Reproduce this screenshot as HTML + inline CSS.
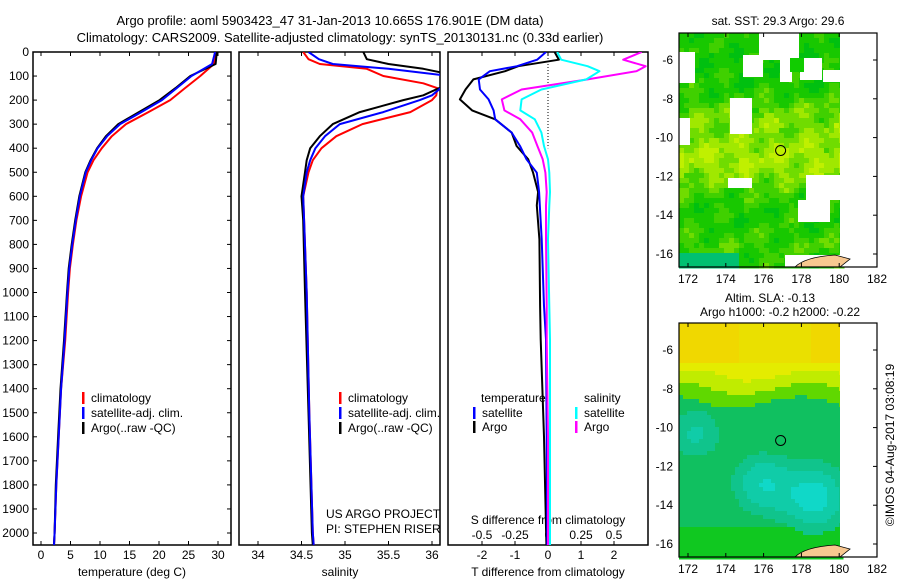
<!DOCTYPE html>
<html><head><meta charset="utf-8"><style>
body{margin:0;background:#fff;}
svg{display:block;font-family:"Liberation Sans",sans-serif;}
text{font-size:12px;fill:#000;}
</style></head><body>
<svg id="s" width="900" height="580" viewBox="0 0 900 580">
<defs>
<clipPath id="c1"><rect x="33" y="52" width="198" height="493"/></clipPath>
<clipPath id="c2"><rect x="239" y="52" width="201" height="493"/></clipPath>
<clipPath id="c3"><rect x="448" y="52" width="200" height="493"/></clipPath>
</defs>
<text x="330" y="25" text-anchor="middle" style="font-size:13px">Argo profile: aoml 5903423_47 31-Jan-2013 10.665S 176.901E (DM data)</text>
<text x="340" y="42" text-anchor="middle" style="font-size:13px">Climatology: CARS2009. Satellite-adjusted climatology: synTS_20130131.nc (0.33d earlier)</text>
<g id="maps"></g>
<g id="g"></g>
</svg>
<script>
// ---- data ----
const depthT = [0,50,100,150,200,250,300,350,400,450,500,600,700,800,900,1000,1200,1400,1600,1800,2000,2050];
const tempClim = [29.5,29.3,27,24.4,21.9,18.2,14.4,12.0,10.3,8.9,7.9,6.8,6.0,5.4,4.9,4.6,4.1,3.4,3.0,2.6,2.3,2.2];
const tempSat  = [29.5,29.0,25.5,23.0,20.5,17.0,13.4,11.2,9.6,8.5,7.6,6.6,5.9,5.3,4.8,4.5,4.0,3.4,3.0,2.6,2.3,2.2];
const tempArgo = [29.8,29.6,25.3,22.8,20.1,16.6,13.1,11.0,9.5,8.4,7.5,6.5,5.8,5.2,4.7,4.4,3.9,3.3,2.9,2.5,2.3,2.2];
const depthS = [0,30,50,70,100,130,150,180,200,250,300,350,400,450,500,600,700,1000,1500,2000,2050];
const salClim = [34.52,34.58,34.71,35.25,35.44,35.9,36.06,36.05,36.0,35.75,35.2,34.9,34.73,34.63,34.58,34.52,34.53,34.56,34.59,34.63,34.64];
const salSat  = [34.58,34.7,34.86,35.5,36.2,36.3,36.1,36.0,35.86,35.44,34.94,34.77,34.66,34.6,34.56,34.52,34.53,34.56,34.59,34.63,34.64];
const salArgo = [35.21,35.25,35.5,35.9,36.3,36.3,36.08,35.9,35.67,35.17,34.86,34.71,34.6,34.56,34.54,34.5,34.52,34.54,34.58,34.62,34.63];
const depthD = [0,32,59,80,114,156,197,243,280,335,391,446,502,582,638,779,1056,1195,1600,2050];
const dTsat  = [-0.06,-0.33,-0.94,-1.76,-2.1,-2.06,-1.8,-1.65,-1.6,-1.1,-0.85,-0.65,-0.34,-0.27,-0.25,-0.19,-0.12,-0.06,-0.04,-0.02];
const dTargo = [0.2,0.33,-0.9,-1.3,-2.26,-2.5,-2.67,-2.3,-1.6,-1.1,-0.95,-0.6,-0.45,-0.3,-0.34,-0.26,-0.24,-0.22,-0.12,-0.05];
const dSsat  = [0.07,0.1,0.3,0.39,0.29,-0.05,-0.2,-0.21,-0.1,-0.05,-0.03,0,0.01,0.015,0.01,0.0,0.01,0.015,0.015,0.015];
const dSargo = [0.71,0.57,0.74,0.67,0.3,-0.2,-0.35,-0.33,-0.21,-0.12,-0.08,-0.04,-0.02,-0.01,-0.015,-0.015,-0.01,-0.01,0.0,0.0];
const depthTicks = [0,100,200,300,400,500,600,700,800,900,1000,1100,1200,1300,1400,1500,1600,1700,1800,1900,2000];
const tempTicks = [0,5,10,15,20,25,30];
const salTicks = [34,34.5,35,35.5,36];
const dTTicks = [-2,-1,0,1,2];
const dSTicks = [-0.5,-0.25,0,0.25,0.5];
const lonTicks = [172,174,176,178,180,182];
const latTicks = [-6,-8,-10,-12,-14,-16];

// ---- scales ----
const yD = d => 52 + d*0.2405;
const xT = v => 41 + v*5.9;
const xS = v => 258 + (v-34)*87;
const xDT = v => 548 + v*33;
const xDS = v => 548 + v*132;
const NS='http://www.w3.org/2000/svg';
const G=document.getElementById('g');
function mk(tag,attrs,parent){const e=document.createElementNS(NS,tag);for(const k in attrs)e.setAttribute(k,attrs[k]);(parent||G).appendChild(e);return e;}
function txt(x,y,s,anchor,parent){const e=mk('text',{x:x,y:y,'text-anchor':anchor||'start'},parent);e.textContent=s;return e;}

const frames=[[33,52,198,493,'temperature-panel'],[239,52,201,493,'salinity-panel'],[448,52,200,493,'difference-panel']];
frames.forEach(f=>{const r=mk('rect',{x:f[0],y:f[1],width:f[2],height:f[3],fill:'none',stroke:'#000','stroke-width':1.5});

});

depthTicks.forEach(d=>{const y=yD(d);
 const t=txt(29,y+4,String(d),'end');
 
 
 mk('line',{x1:33,x2:37,y1:y,y2:y,stroke:'#000'});
 mk('line',{x1:227,x2:231,y1:y,y2:y,stroke:'#000'});
});
function xticks(vals,sc,top,bot,lab){vals.forEach(v=>{const x=sc(v);
 mk('line',{x1:x,x2:x,y1:top,y2:top+4,stroke:'#000'});
 mk('line',{x1:x,x2:x,y1:bot-4,y2:bot,stroke:'#000'});
 if(lab){const t=txt(x,559,String(v),'middle');
 
 }
});}
xticks(tempTicks,xT,52,545,true);
xticks(salTicks,xS,52,545,true);
xticks(dTTicks,xDT,52,545,true);
dSTicks.forEach(v=>{const t=txt(xDS(v),539,String(v),'middle');
 
 });

[[132,576,'temperature (deg C)','x-axis-title-temperature'],[340,576,'salinity','x-axis-title-salinity'],[548,576,'T difference from climatology','x-axis-title-t-diff'],[548,524,'S difference from climatology','x-axis-title-s-diff']].forEach(a=>{
 const t=txt(a[0],a[1],a[2],'middle');
 
 });

mk('line',{x1:548,x2:548,y1:52,y2:yD(400),stroke:'#000','stroke-dasharray':'1,2'});

function line(xs,ys,sx,color,clip,name,w){
 const d=xs.map((v,i)=>(i?'L':'M')+sx(v).toFixed(1)+','+yD(ys[i]).toFixed(1)).join('');
 const p=mk('path',{d:d,fill:'none',stroke:color,'stroke-width':w||2,'clip-path':'url(#'+clip+')','stroke-linejoin':'round'});
 
 
}
line(tempClim,depthT,xT,'#f00','c1','temp-climatology-line');
line(tempArgo,depthT,xT,'#000','c1','temp-argo-line');
line(tempSat,depthT,xT,'#00f','c1','temp-satellite-line');
line(salClim,depthS,xS,'#f00','c2','sal-climatology-line');
line(salArgo,depthS,xS,'#000','c2','sal-argo-line');
line(salSat,depthS,xS,'#00f','c2','sal-satellite-line');
line(dTargo,depthD,xDT,'#000','c3','tdiff-argo-line');
line(dTsat,depthD,xDT,'#00f','c3','tdiff-satellite-line');
line(dSargo,depthD,xDS,'#f0f','c3','sdiff-argo-line');
line(dSsat,depthD,xDS,'#0ff','c3','sdiff-satellite-line');

function leg(x,y,color,label,name){
 mk('rect',{x:x,y:y-10,width:2.5,height:12,fill:color});
 const t=txt(x+9,y,label);
 
 
}
leg(82,402,'#f00','climatology','legend-temp-climatology');
leg(82,417,'#00f','satellite-adj. clim.','legend-temp-satellite');
leg(82,432,'#000','Argo(..raw -QC)','legend-temp-argo');
leg(339,402,'#f00','climatology','legend-sal-climatology');
leg(339,417,'#00f','satellite-adj. clim.','legend-sal-satellite');
leg(339,432,'#000','Argo(..raw -QC)','legend-sal-argo');
txt(481,402,'temperature');
txt(584,402,'salinity');
leg(473,417,'#00f','satellite','legend-tdiff-satellite');
leg(473,431,'#000','Argo','legend-tdiff-argo');
leg(575,417,'#0ff','satellite','legend-sdiff-satellite');
leg(575,431,'#f0f','Argo','legend-sdiff-argo');
txt(326,518,'US ARGO PROJECT');
txt(326,533,'PI: STEPHEN RISER');

// ---- maps ----
const M=document.getElementById('maps');
const xL=lon=>688+(lon-172)*18.9;
function drawMap(top,kind){
 const grp=mk('g',{},M);
 
 
 const yl=lat=>top+27+(-6-lat)*19.4;
 const cs=kind==1?5:4;
 for(let x=679;x<840;x+=cs){for(let y=top;y<top+234;y+=cs){
  const lon=172+(x-688)/18.9, lat=-6-(y-top-27)/19.4;
  let c;
  if(kind==1){
   const n=Math.sin(x*0.13+y*0.07)*Math.cos(y*0.11-x*0.05)+Math.sin(x*0.9+y*0.5)*0.3;
   const band=Math.exp(-Math.pow((lat+11)/1.6,2))*1.0+Math.exp(-Math.pow((lat+8.8)/1.0,2))*0.5+Math.exp(-Math.pow((lat+15.5)/0.8,2))*0.3;
   const v=band+n*0.4;
   c=v>1.1?'#c0f000':v>0.8?'#a0e800':v>0.5?'#70dc00':v>0.2?'#40d000':v>-0.2?'#18c800':'#00c010';
   if(lat<-15.8&&lon<174.5)c='#00c070';
  }else{
   const n=Math.sin(x*0.05+y*0.03)*0.3;
   if(lat>-7.2+n){c=lat>-6.6?(lon>178.5||lon<174.5?'#f0d800':'#eae000'):'#e4ec00';}
   else if(lat>-7.9+n){c='#c0ec00';}
   else if(lat>-8.6+n){c='#60d800';}
   else{
    const b=Math.exp(-(Math.pow(lon-178.6,2)+Math.pow(lat+13.5,2))/3)+Math.exp(-(Math.pow(lon-175.8,2)+Math.pow(lat+12.8,2))/2.5)*0.8+Math.exp(-(Math.pow(lon-172.3,2)+Math.pow(lat+10.2,2))/2)*0.6;
    c=b>0.85?'#10d8c8':b>0.55?'#10cca8':b>0.3?'#10c48c':(lat<-15?'#10c820':'#10c060');
   }
  }
  mk('rect',{x:x,y:y,width:cs+0.5,height:cs+0.5,fill:c},grp);
 }}
 if(kind==1){
  [[759,33,40,27],[743,55,20,22],[780,60,12,22],[800,58,22,22],[679,52,16,31],[730,98,22,36],[679,118,11,27],[806,175,34,25],[798,200,32,22],[728,178,24,10],[785,255,55,12],[823,70,17,12]].forEach(r=>mk('rect',{x:r[0],y:r[1],width:r[2],height:r[3],fill:'#fff'},grp));
  mk('rect',{x:790,y:58,width:14,height:14,fill:'#11cc00'},grp);
 }
 mk('rect',{x:840,y:top,width:37,height:234,fill:'#fff'},grp);
 mk('path',{d:`M795,${top+234} Q805,${top+224} 835,${top+222} L850,${top+226} L840,${top+234} Z`,fill:'#f8c890',stroke:'#000','stroke-width':0.8},grp);
 mk('circle',{cx:xL(176.9),cy:yl(-10.665),r:5,fill:'none',stroke:'#000'},grp);
 mk('rect',{x:679,y:top,width:198,height:234,fill:'none',stroke:'#000','stroke-width':1.2},grp);
 lonTicks.forEach(l=>{const x=xL(l);mk('line',{x1:x,x2:x,y1:top,y2:top+4,stroke:'#000'},grp);mk('line',{x1:x,x2:x,y1:top+230,y2:top+234,stroke:'#000'},grp);
  txt(x,top+250,String(l),'middle',grp);});
 latTicks.forEach(l=>{const y=yl(l);mk('line',{x1:873,x2:877,y1:y,y2:y,stroke:'#000'},grp);
  txt(673,y+4,String(l),'end',grp);});
}
drawMap(33,1);
drawMap(323,2);
const t1=txt(778,25,'sat. SST: 29.3 Argo: 29.6','middle',M);


const t2=txt(770,302,'Altim. SLA: -0.13','middle',M);


const t3=txt(780,316,'Argo h1000: -0.2 h2000: -0.22','middle',M);


const t4=txt(0,0,'©IMOS 04-Aug-2017 03:08:19','middle',M);
t4.setAttribute('transform','translate(894,445) rotate(-90)');


</script>
</body></html>
